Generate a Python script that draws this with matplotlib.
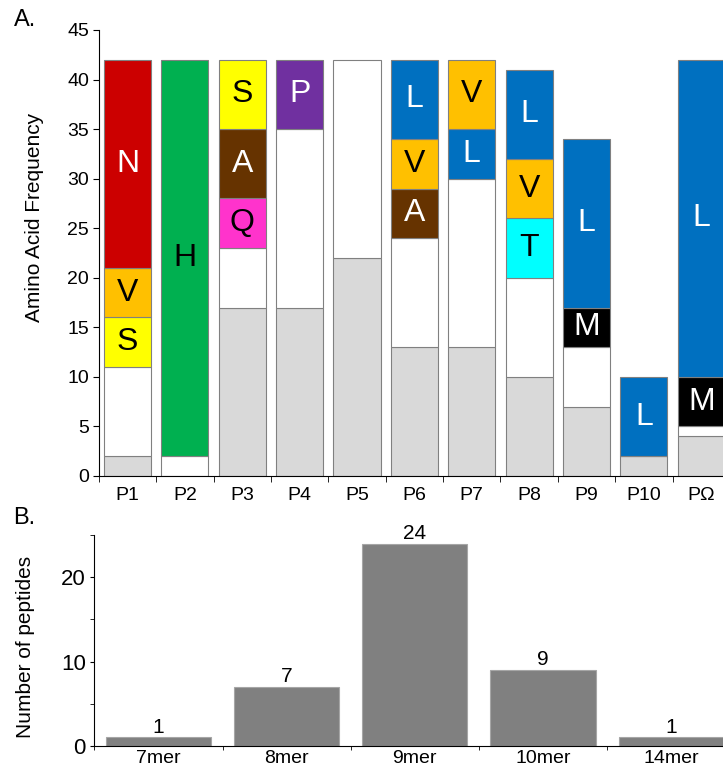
import matplotlib
matplotlib.use("Agg")
import matplotlib.pyplot as plt
import numpy as np

plt.rcParams['font.family'] = ['Liberation Sans', 'DejaVu Sans']

# panel A data: per anchor position, counts stacked from the bottom
positions = ['P1', 'P2', 'P3', 'P4', 'P5', 'P6', 'P7', 'P8', 'P9', 'P10', 'PΩ']
gray_counts = [2, 0, 17, 17, 22, 13, 13, 10, 7, 2, 4]
white_counts = [9, 2, 6, 18, 20, 11, 17, 10, 6, 0, 1]
residues = [['S', 'V', 'N'], ['H'], ['Q', 'A', 'S'], ['P'], [],
            ['A', 'V', 'L'], ['L', 'V'], ['T', 'V', 'L'], ['M', 'L'], ['L'], ['M', 'L']]
residue_counts = [[5, 5, 21], [40], [5, 7, 7], [7], [],
                  [5, 5, 8], [5, 7], [6, 6, 9], [4, 17], [8], [5, 32]]

# panel B data
lengths = ['7mer', '8mer', '9mer', '10mer', '14mer']
n_peptides = [1, 7, 24, 9, 1]

aa_color = {'N': '#CC0000', 'V': '#FFC000', 'S': '#FFFF00', 'H': '#00B050',
            'A': '#663300', 'Q': '#FF33CC', 'P': '#7030A0', 'L': '#0070C0',
            'T': '#00FFFF', 'M': '#000000'}
aa_text = {'N': 'white', 'V': 'black', 'S': 'black', 'H': 'black', 'A': 'white',
           'Q': 'black', 'P': 'white', 'L': 'white', 'T': 'black', 'M': 'white'}

W, H = 723, 770
fig = plt.figure(figsize=(W / 100, H / 100), dpi=100)

# ---- panel A ----
axA = fig.add_axes([98.8 / W, (H - 476) / H, 631.1 / W, 446 / H])
x = np.arange(len(positions))
edge = '#808080'
bw = 0.82
axA.bar(x, gray_counts, width=bw, color='#D9D9D9', edgecolor=edge, linewidth=0.8)
axA.bar(x, white_counts, bottom=gray_counts, width=bw, color='white',
        edgecolor=edge, linewidth=0.8)
for i in range(len(positions)):
    b = gray_counts[i] + white_counts[i]
    for aa, c in zip(residues[i], residue_counts[i]):
        axA.bar(x[i], c, bottom=b, width=bw, color=aa_color[aa],
                edgecolor=edge, linewidth=0.8)
        axA.text(x[i], b + c / 2, aa, ha='center', va='center',
                 fontsize=23, color=aa_text[aa])
        b += c

axA.set_xlim(-0.5, len(positions) - 0.5)
axA.set_ylim(0, 45)
axA.set_yticks(range(0, 46, 5))
axA.set_xticks(x)
axA.set_xticklabels(positions)
axA.set_xticks(np.arange(-0.5, len(positions), 1), minor=True)
axA.tick_params(axis='x', which='major', length=0, pad=8, labelsize=14)
axA.tick_params(axis='x', which='minor', length=4, direction='out')
axA.tick_params(axis='y', length=4, pad=3, labelsize=14)
for s in ['top', 'right']:
    axA.spines[s].set_visible(False)
axA.set_ylabel('Amino Acid Frequency', fontsize=15)
axA.yaxis.set_label_coords(-0.087, 0.58)
fig.text(14 / W, 1 - 9 / H, 'A.', fontsize=17, va='top', ha='left')

# ---- panel B ----
axB = fig.add_axes([94.3 / W, (H - 745.7) / H, 641 / W, 210.5 / H])
xb = np.arange(len(lengths))
axB.bar(xb, n_peptides, width=0.82, color='#808080', edgecolor='#A6A6A6',
        linewidth=0.8)
for xi, v in zip(xb, n_peptides):
    axB.text(xi, v + 0.05, str(v), ha='center', va='bottom', fontsize=15)
axB.set_xlim(-0.5, len(lengths) - 0.5)
axB.set_ylim(0, 25)
axB.set_yticks([0, 10, 20])
axB.set_yticks([5, 15, 25], minor=True)
axB.set_xticks(xb)
axB.set_xticklabels(lengths)
axB.set_xticks(np.arange(-0.5, len(lengths), 1), minor=True)
axB.tick_params(axis='x', which='major', length=0, pad=3, labelsize=14)
axB.tick_params(axis='x', which='minor', length=3, direction='out')
axB.tick_params(axis='y', which='both', length=3, pad=3, labelsize=16)
for s in ['top', 'right']:
    axB.spines[s].set_visible(False)
axB.set_ylabel('Number of peptides', fontsize=15)
axB.yaxis.set_label_coords(-0.092, 0.47)
fig.text(13 / W, 1 - 507 / H, 'B.', fontsize=17, va='top', ha='left')

fig.savefig('out.png', dpi=100)
